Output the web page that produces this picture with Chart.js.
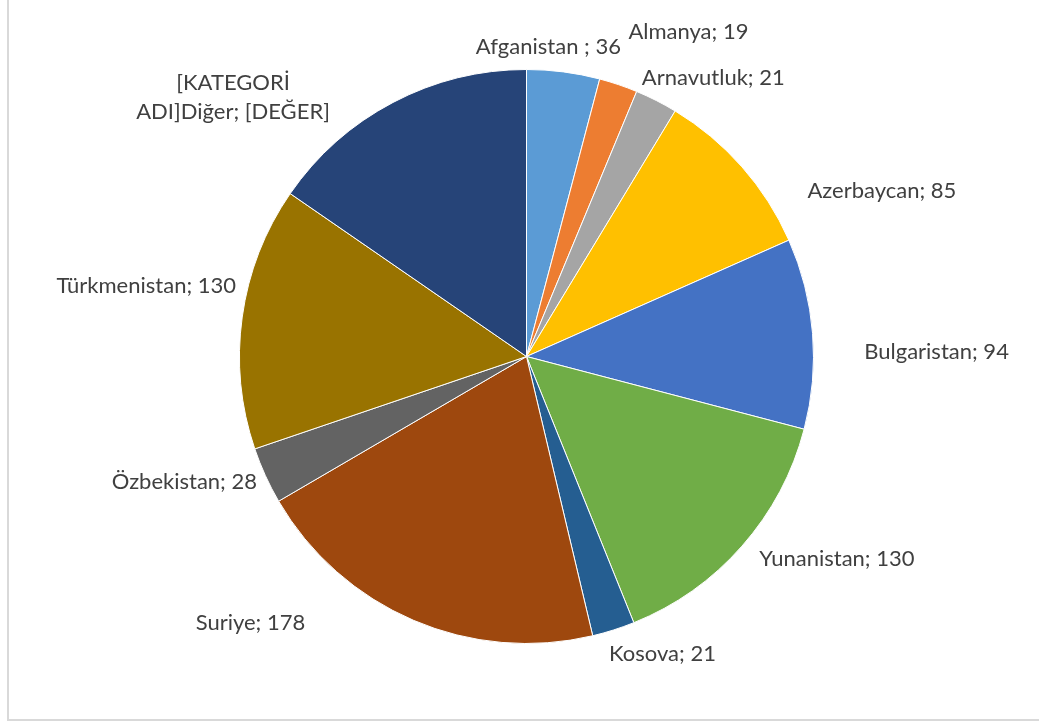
<!DOCTYPE html>
<html>
<head>
<meta charset="utf-8">
<script src="https://cdn.jsdelivr.net/npm/chart.js"></script>
<style>
  html, body { margin: 0; padding: 0; background: #fff; }
  #wrap { width: 1039px; height: 722px; position: relative; }
</style>
</head>
<body>
<div id="wrap"><canvas id="pieChart" width="1039" height="722"></canvas></div>
<script>
// Countries and counts
var categories = ['Afganistan', 'Almanya', 'Arnavutluk', 'Azerbaycan', 'Bulgaristan',
    'Yunanistan', 'Kosova', 'Suriye', 'Özbekistan', 'Türkmenistan', 'Diğer'];
var values = [36, 19, 21, 85, 94, 130, 21, 178, 28, 130, 135];
// label text as it appears (lines)
var labelText = [
    ['Afganistan ; 36'], ['Almanya; 19'], ['Arnavutluk; 21'], ['Azerbaycan; 85'],
    ['Bulgaristan; 94'], ['Yunanistan; 130'], ['Kosova; 21'], ['Suriye; 178'],
    ['Özbekistan; 28'], ['Türkmenistan; 130'], ['[KATEGORİ', 'ADI]Diğer; [DEĞER]']
];
var sliceColors = ['#5B9BD5', '#ED7D31', '#A5A5A5', '#FFC000', '#4472C4',
    '#70AD47', '#255E91', '#9E480E', '#636363', '#997300', '#264478'];

// how far each label sits from the slice edge at its mid angle (best-fit placement)
var labelNudge = [[-15, -26], [70, -54], [57, -23], [140, 23], [124, 18],
    [95, 12], [49, 23], [-163, 2], [-81, 5], [-96, -32], [-160, -6]];

var FONT_SIZE = 22;
var LINE_H = 29;

var frameLines = {
    id: 'frameLines',
    beforeDraw: function(chart) {
        var c = chart.ctx;
        c.save();
        c.fillStyle = '#fff';
        c.fillRect(0, 0, chart.width, chart.height);
        c.strokeStyle = '#D9D9D9';
        c.lineWidth = 2;
        c.beginPath();
        c.moveTo(8, 0);
        c.lineTo(8, 720);
        c.lineTo(chart.width, 720);
        c.stroke();
        c.restore();
    }
};

var outsideLabels = {
    id: 'outsideLabels',
    afterDatasetsDraw: function(chart) {
        var c = chart.ctx;
        var arcs = chart.getDatasetMeta(0).data;
        c.save();
        c.font = FONT_SIZE + 'px Lato, "Open Sans", sans-serif';
        c.fillStyle = '#404040';
        c.textAlign = 'center';
        c.textBaseline = 'alphabetic';
        arcs.forEach(function(arc, i) {
            var mid = (arc.startAngle + arc.endAngle) / 2;
            var ex = arc.x + arc.outerRadius * Math.cos(mid);
            var ey = arc.y + arc.outerRadius * Math.sin(mid);
            var lx = ex + labelNudge[i][0];
            var ly = ey + labelNudge[i][1];
            var lines = labelText[i];
            var top = ly - (lines.length - 1) * LINE_H / 2;
            lines.forEach(function(t, k) {
                c.fillText(t, lx, top + k * LINE_H + FONT_SIZE * 0.36);
            });
        });
        c.restore();
    }
};

var data = {
    labels: categories,
    datasets: [{
        data: values,
        backgroundColor: sliceColors,
        borderColor: '#ffffff',
        borderWidth: 1
    }]
};

var config = {
    type: 'pie',
    data: data,
    options: {
        responsive: false,
        animation: false,
        devicePixelRatio: 1,
        layout: {
            padding: { left: 239, right: 225, top: 69, bottom: 78 }
        },
        plugins: {
            legend: { display: false },
            tooltip: { enabled: false }
        }
    },
    plugins: [frameLines, outsideLabels]
};

var ctx = document.getElementById('pieChart');
if (ctx) {
    new Chart(ctx, config);
}
</script>
</body>
</html>
